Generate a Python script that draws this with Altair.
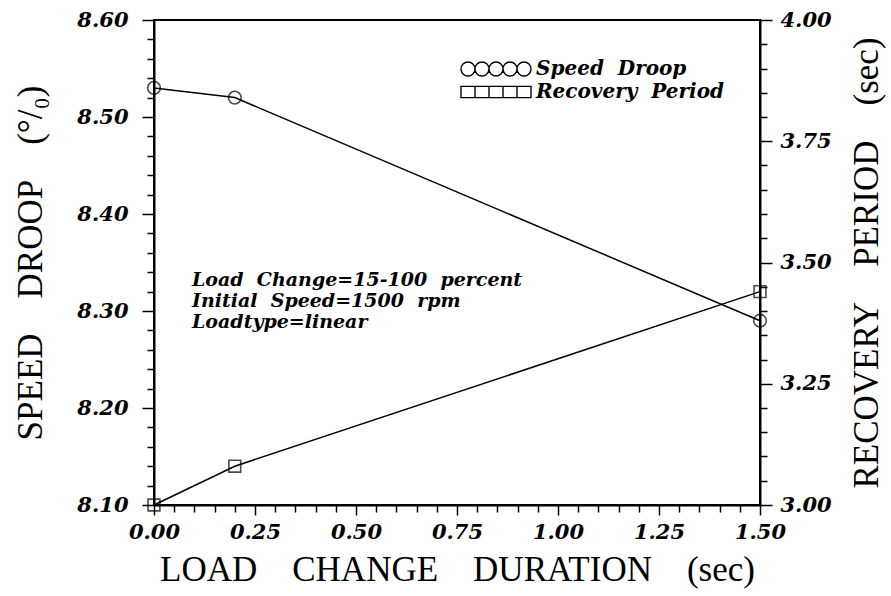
import altair as alt
import pandas as pd

# Measured response versus load change duration
duration = [0.0, 0.2, 1.5]
speed_droop = [8.53, 8.52, 8.29]          # percent
recovery_period = [3.00, 3.08, 3.44]      # seconds

series_names = ["Speed\u00a0\u00a0Droop", "Recovery\u00a0\u00a0Period"]
note_lines = [
    "Load\u00a0\u00a0Change=15-100\u00a0\u00a0percent",
    "Initial\u00a0\u00a0Speed=1500\u00a0\u00a0rpm",
    "Loadtype=linear",
]

# Axis tick positions (major + minor)
x_ticks = [round(i * 0.05, 2) for i in range(31)]
droop_ticks = [round(8.10 + i * 0.02, 2) for i in range(26)]
recovery_ticks = [round(3.00 + i * 0.05, 2) for i in range(21)]

df = pd.DataFrame({"duration": duration, "droop": speed_droop, "recovery": recovery_period})

SP = "\u00a0\u00a0\u00a0\u00a0"
TICK_FONT = "DejaVu Serif"
TITLE_FONT = "Liberation Serif"


def major_test(step_inv):
    return f"abs(datum.value*{step_inv} - round(datum.value*{step_inv})) < 0.001"


def axis_for(values, step_inv, title, orient, major=12, minor=7,
             label_pad=12, title_pad=12, **extra):
    test = major_test(step_inv)
    return alt.Axis(
        values=values,
        orient=orient,
        title=title,
        tickSize={"condition": {"test": test, "value": major}, "value": minor},
        labelExpr=f"{test} ? format(datum.value, '.2f') : ''",
        labelOverlap=False,
        labelFlush=False,
        labelPadding=label_pad,
        titlePadding=title_pad,
        grid=False,
        **extra,
    )


x_enc = alt.X(
    "duration:Q",
    scale=alt.Scale(domain=[0, 1.5], nice=False, zero=False),
    axis=axis_for(x_ticks, 4, f"LOAD{SP}CHANGE{SP}DURATION{SP}(sec)", "bottom",
                  major=10, minor=7, label_pad=6, title_pad=10),
)

droop_base = alt.Chart(df).encode(
    x=x_enc,
    y=alt.Y(
        "droop:Q",
        scale=alt.Scale(domain=[8.10, 8.60], nice=False, zero=False),
        axis=axis_for(droop_ticks, 10, f"SPEED{SP}DROOP{SP}(°/₀)", "left",
                      label_pad=14, title_pad=28),
    ),
)
droop_layer = alt.layer(
    droop_base.mark_line(color="black", strokeWidth=1.5),
    droop_base.mark_point(shape="circle", size=160, color="black", filled=False,
                          strokeWidth=1.6, clip=False),
)

recovery_base = alt.Chart(df).encode(
    x=x_enc,
    y=alt.Y(
        "recovery:Q",
        scale=alt.Scale(domain=[3.00, 4.00], nice=False, zero=False),
        axis=axis_for(recovery_ticks, 4, f"RECOVERY{SP}PERIOD{SP}(sec)", "right",
                      label_pad=8, title_pad=18, titleAngle=270, titleBaseline="top"),
    ),
)
recovery_layer = alt.layer(
    recovery_base.mark_line(color="black", strokeWidth=1.5),
    recovery_base.mark_point(shape="square", size=140, color="black", filled=False,
                             strokeWidth=1.6, clip=False),
)

# Legend symbols: a row of five circles / five squares
circle_row = " ".join(
    f"M{cx - 1},0 A1,1 0 1,0 {cx + 1},0 A1,1 0 1,0 {cx - 1},0 Z" for cx in (-4, -2, 0, 2, 4)
)
square_row = " ".join(
    f"M{cx - 1},-0.8 H{cx + 1} V0.8 H{cx - 1} Z" for cx in (-4, -2, 0, 2, 4)
)

legend_layer = alt.Chart(pd.DataFrame({"series": series_names})).mark_point(
    opacity=0, filled=False
).encode(
    shape=alt.Shape(
        "series:N",
        scale=alt.Scale(domain=series_names, range=[circle_row, square_row]),
        legend=alt.Legend(
            title=None,
            orient="none",
            legendX=332,
            legendY=39,
            symbolSize=196,
            symbolStrokeColor="black",
            symbolFillColor="transparent",
            symbolStrokeWidth=1.4,
            symbolOpacity=1,
            labelOffset=30,
            labelLimit=0,
            labelFont=TICK_FONT,
            labelFontStyle="italic",
            labelFontWeight="bold",
            labelFontSize=20,
            labelColor="black",
            rowPadding=3,
        ),
    )
)

note_layer = alt.Chart(alt.Data(values=[{"note": note_lines}])).mark_text(
    align="left",
    baseline="top",
    font=TICK_FONT,
    fontStyle="italic",
    fontWeight="bold",
    fontSize=19,
    lineHeight=21,
    color="black",
).encode(text="note:N", x=alt.value(38), y=alt.value(251))

chart = (
    alt.layer(droop_layer, recovery_layer, legend_layer, note_layer)
    .resolve_scale(y="independent", shape="independent")
    .properties(
        width=606,
        height=485,
        autosize=alt.AutoSizeParams(type="none"),
        padding={"left": 154, "top": 20, "right": 131, "bottom": 91},
        background="white",
    )
    .configure_view(stroke="black", strokeWidth=2)
    .configure_axis(
        domainColor="black",
        domainWidth=2,
        tickColor="black",
        tickWidth=1.5,
        labelFont=TICK_FONT,
        labelFontStyle="italic",
        labelFontWeight="bold",
        labelFontSize=21,
        labelColor="black",
        titleFont=TITLE_FONT,
        titleFontWeight="normal",
        titleFontSize=35,
        titleColor="black",
    )
)

chart.save("out.html", embed_options={"renderer": "svg", "actions": False})
